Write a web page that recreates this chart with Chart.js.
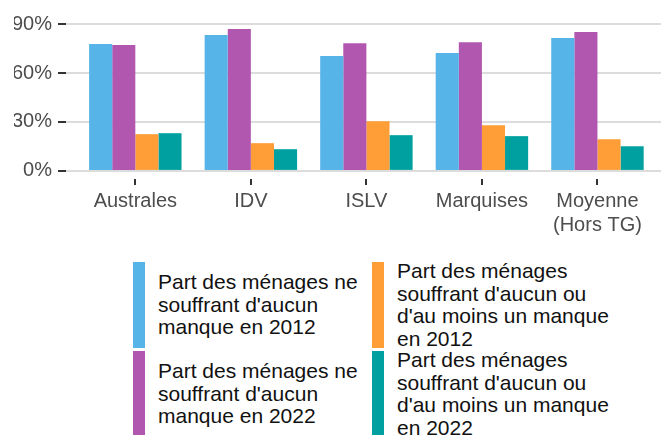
<!DOCTYPE html>
<html lang="fr">
<head>
    <meta charset="UTF-8">
    <title>Part des ménages</title>
    <script src="https://cdn.jsdelivr.net/npm/chart.js"></script>
    <style>
        body { margin: 0; background: #fff; font-family: "Liberation Sans", Arial, sans-serif; }
        #page { position: relative; width: 661px; height: 435px; overflow: hidden; }
        #zone { position: absolute; left: 0; top: 0; width: 661px; height: 245px; }
        .item { position: absolute; height: 86px; display: flex; align-items: center; }
        .cle { width: 12px; height: 86px; flex: none; }
        .texte { margin-left: 13px; font-size: 21px; line-height: 22.5px; color: #111; }
    </style>
</head>
<body>
<div id="page">
    <div id="zone"><canvas id="graphique"></canvas></div>
    <div id="legende"></div>
</div>

<script>
    // valeurs (%)
    const categories = ['Australes', 'IDV', 'ISLV', 'Marquises', ['Moyenne', '(Hors TG)']];
    const aucun2012 = [77.7, 83.3, 70.4, 72.2, 81.4];
    const aucun2022 = [77.1, 86.9, 78.3, 78.9, 85.1];
    const unManque2012 = [22.5, 17.0, 30.5, 28.0, 19.4];
    const unManque2022 = [23.1, 13.3, 21.9, 21.3, 15.1];
    const ticksY = [0, 30, 60, 90];

    const series = [
        { label: "Part des ménages ne souffrant d'aucun manque en 2012", data: aucun2012, couleur: '#56B4E9' },
        { label: "Part des ménages ne souffrant d'aucun manque en 2022", data: aucun2022, couleur: '#B157B0' },
        { label: "Part des ménages souffrant d'aucun ou d'au moins un manque en 2012", data: unManque2012, couleur: '#FF9D36' },
        { label: "Part des ménages souffrant d'aucun ou d'au moins un manque en 2022", data: unManque2022, couleur: '#00A0A0' }
    ];

    const gris = '#4d4d4d';
    const police = '"Liberation Sans", Arial, sans-serif';

    // petites graduations sous l'axe x (style ggplot)
    const graduationsX = {
        id: 'graduationsX',
        afterDraw(chart) {
            const ctx = chart.ctx;
            const x = chart.scales.x;
            const bas = chart.chartArea.bottom;
            ctx.save();
            ctx.fillStyle = '#333';
            categories.forEach((c, i) => {
                const px = Math.round(x.getPixelForValue(i));
                ctx.fillRect(px - 1, bas + 1, 2, 6);
            });
            ctx.restore();
        }
    };

    new Chart(document.getElementById('graphique'), {
        type: 'bar',
        data: {
            datasets: series.map(s => ({
                label: s.label,
                data: s.data.map((v, i) => ({ x: i, y: v })),
                backgroundColor: s.couleur,
                borderWidth: 0,
                categoryPercentage: 0.8,
                barPercentage: 1
            }))
        },
        plugins: [graduationsX],
        options: {
            responsive: true,
            maintainAspectRatio: false,
            animation: false,
            layout: { padding: { top: 22, left: 14, right: 0, bottom: 0 } },
            plugins: { legend: { display: false }, tooltip: { enabled: false } },
            scales: {
                x: {
                    type: 'linear',
                    offset: false,
                    min: -0.6,
                    max: 4.55,
                    afterBuildTicks: axe => { axe.ticks = categories.map((c, i) => ({ value: i })); },
                    afterFit: axe => { axe.height = 67; },
                    ticks: {
                        autoSkip: false,
                        maxRotation: 0,
                        padding: 3,
                        color: gris,
                        font: { family: police, size: 20, lineHeight: 1.2 },
                        callback: v => categories[v]
                    },
                    grid: { display: false },
                    border: { display: false }
                },
                y: {
                    min: -4.35,
                    max: 91.25,
                    afterBuildTicks: axe => { axe.ticks = ticksY.map(v => ({ value: v })); },
                    afterFit: axe => { axe.width = 52; },
                    ticks: {
                        padding: 6,
                        color: gris,
                        font: { family: police, size: 20 },
                        callback: v => v + '%'
                    },
                    grid: { color: '#dcdcdc', lineWidth: 2, tickLength: 8, tickColor: '#333', tickWidth: 2 },
                    border: { display: false }
                }
            }
        }
    });

    // légende en deux colonnes (ordre par colonne)
    const legende = document.getElementById('legende');
    const positions = [[133, 262, 212], [133, 351, 212], [372, 262, 228], [372, 351, 228]];
    series.forEach((s, i) => {
        const [x, y, w] = positions[i];
        const item = document.createElement('div');
        item.className = 'item';
        item.style.left = x + 'px';
        item.style.top = y + 'px';
        item.innerHTML = '<div class="cle" style="background:' + s.couleur + '"></div>' +
            '<div class="texte" style="width:' + w + 'px">' + s.label + '</div>';
        legende.appendChild(item);
    });
</script>
</body>
</html>
